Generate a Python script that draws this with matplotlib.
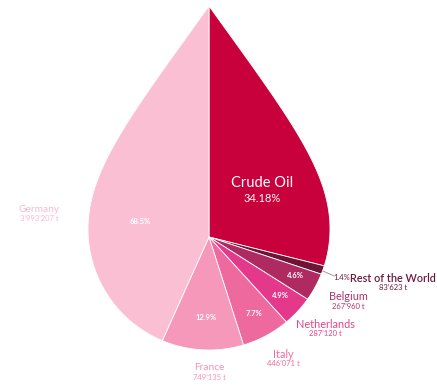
import numpy as np
import matplotlib.pyplot as plt
from matplotlib.patches import Polygon

# Share of crude oil in the drop, rest split by country of origin (tonnes)
crude_label = "Crude Oil"
crude_pct = 34.18
countries = ["Rest of the World", "Belgium", "Netherlands", "Italy", "France", "Germany"]
tonnes = [83623, 267960, 287120, 446071, 749135, 3993207]

crude_color = "#C8003C"
slice_colors = ["#6E1434", "#AE2A60", "#E4398A", "#EE6A9E", "#F598BA", "#FBBFD3"]
text_colors = ["#6E1A3F", "#B0336B", "#E2448B", "#EC6EA2", "#F393B7", "#F9B9CE"]

# label anchors in pixel space
name_pos = [(393, 278), (348, 297), (325, 324), (283, 354), (209, 368), (39, 209)]
pct_pos = [(342, 277), (295, 276), (280, 295), (254, 313), (206, 317), (140, 222)]


def fmt_t(v):
    return f"{v:,}".replace(",", "\u2019") + " t"


def bezier(p0, p1, p2, p3, n=80):
    s = np.linspace(0, 1, n)[:, None]
    p0, p1, p2, p3 = map(np.asarray, (p0, p1, p2, p3))
    return ((1 - s) ** 3) * p0 + 3 * ((1 - s) ** 2) * s * p1 + 3 * (1 - s) * s ** 2 * p2 + s ** 3 * p3


# drop outline, clockwise from the tip (screen coords, y down)
cx, cy, r = 209.0, 229.0, 121.0
tip = (cx, 6.0)
right = bezier(tip, (cx + 79, 116), (cx + r, 170), (cx + r, cy))
a = np.linspace(0, np.pi, 200)
arc = np.column_stack([cx + r * np.cos(a), cy + r * np.sin(a)])
left = bezier((cx - r, cy), (cx - r, 170), (cx - 79, 116), tip)
outline = np.vstack([right, arc[1:], left[1:]])

# slices radiate from a point slightly below the circle centre,
# sized by the area they cover inside the drop
vx, vy = cx, 237.0
d = outline - [vx, vy]
tri = 0.5 * np.abs(d[:-1, 0] * d[1:, 1] - d[:-1, 1] * d[1:, 0])
cum = np.concatenate([[0], np.cumsum(tri)])
total_area = cum[-1]


def point_at(frac):
    target = frac * total_area
    i = min(np.searchsorted(cum, target, side="right") - 1, len(tri) - 1)
    f = (target - cum[i]) / tri[i] if tri[i] > 0 else 0
    return i, outline[i] + f * (outline[i + 1] - outline[i])


shares = [crude_pct / 100] + [(1 - crude_pct / 100) * t / sum(tonnes) for t in tonnes]
colors = [crude_color] + slice_colors
bounds = np.concatenate([[0], np.cumsum(shares)])
bounds[-1] = 1.0

fig = plt.figure(figsize=(4.37, 3.87), dpi=100)
ax = fig.add_axes([0, 0, 1, 1])
ax.set_xlim(0, 437)
ax.set_ylim(387, 0)
ax.axis("off")

for k in range(len(shares)):
    i0, p0 = point_at(bounds[k])
    i1, p1 = point_at(bounds[k + 1])
    pts = [(vx, vy), p0] + list(outline[i0 + 1:i1 + 1]) + [p1]
    ax.add_patch(Polygon(pts, closed=True, facecolor=colors[k],
                         edgecolor="white", linewidth=0.6))

font = "Lato"
ax.text(262, 183, crude_label, color="white", fontsize=10.5, ha="center", va="center", family=font)
ax.text(262, 199, f"{crude_pct:.2f}%", color="white", fontsize=8, ha="center", va="center", family=font)

pcts = [100 * t / sum(tonnes) for t in tonnes]
for k, name in enumerate(countries):
    size = 7.8 if k < 4 else 7.3
    weight = "semibold" if k == 0 else "normal"
    nx, ny = name_pos[k]
    ax.text(nx, ny, name, color=text_colors[k], fontsize=size, ha="center", va="center",
            family=font, fontweight=weight)
    ax.text(nx, ny + 9.5, fmt_t(tonnes[k]), color=text_colors[k], fontsize=5.5,
            ha="center", va="center", family=font)
    px, py = pct_pos[k]
    pc = text_colors[0] if k == 0 else "white"
    ax.text(px, py, f"{pcts[k]:.1f}%", color=pc, fontsize=5.5, ha="center", va="center",
            family=font, fontweight="bold" if k else "normal")

# leader for the thin slice
ax.plot([323, 334], [271, 276], color="#9A8A90", linewidth=0.6)

fig.savefig("out.png", dpi=100, facecolor="white")
